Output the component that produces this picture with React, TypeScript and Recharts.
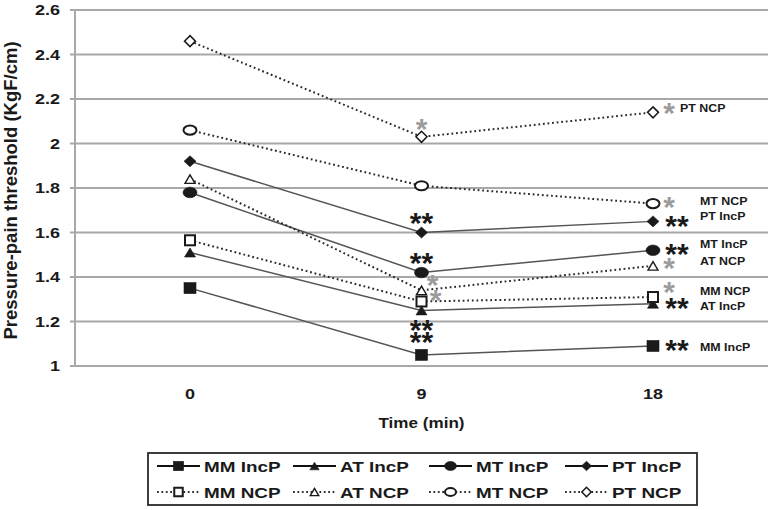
import React from 'react';
import { LineChart, Line, XAxis, YAxis, CartesianGrid, LabelList } from 'recharts';

// ---------- data ----------
const categories = ['0', '9', '18'];
const yTicks = [1, 1.2, 1.4, 1.6, 1.8, 2, 2.2, 2.4, 2.6];

const mmIncP = [1.35, 1.05, 1.09];
const atIncP = [1.51, 1.25, 1.28];
const mtIncP = [1.78, 1.42, 1.52];
const ptIncP = [1.92, 1.6, 1.65];
const mmNCP = [1.565, 1.29, 1.31];
const atNCP = [1.84, 1.34, 1.45];
const mtNCP = [2.06, 1.81, 1.73];
const ptNCP = [2.46, 2.03, 2.14];

const mmIncPSig = ['', '**', '**'];
const atIncPSig = ['', '**', '**'];
const mtIncPSig = ['', '**', '**'];
const ptIncPSig = ['', '**', '**'];
const mmNCPSig = ['', '*', '*'];
const atNCPSig = ['', '*', '*'];
const mtNCPSig = ['', '', '*'];
const ptNCPSig = ['', '*', '*'];

type Shape = 'square' | 'triangle' | 'ellipse' | 'diamond';

const series = [
  { key: 'MM_IncP', name: 'MM IncP', values: mmIncP, sig: mmIncPSig, shape: 'square' as Shape, filled: true },
  { key: 'AT_IncP', name: 'AT IncP', values: atIncP, sig: atIncPSig, shape: 'triangle' as Shape, filled: true },
  { key: 'MT_IncP', name: 'MT IncP', values: mtIncP, sig: mtIncPSig, shape: 'ellipse' as Shape, filled: true },
  { key: 'PT_IncP', name: 'PT IncP', values: ptIncP, sig: ptIncPSig, shape: 'diamond' as Shape, filled: true },
  { key: 'MM_NCP', name: 'MM NCP', values: mmNCP, sig: mmNCPSig, shape: 'square' as Shape, filled: false },
  { key: 'AT_NCP', name: 'AT NCP', values: atNCP, sig: atNCPSig, shape: 'triangle' as Shape, filled: false },
  { key: 'MT_NCP', name: 'MT NCP', values: mtNCP, sig: mtNCPSig, shape: 'ellipse' as Shape, filled: false },
  { key: 'PT_NCP', name: 'PT NCP', values: ptNCP, sig: ptNCPSig, shape: 'diamond' as Shape, filled: false },
];

// ---------- styling (offsets for annotations / end labels) ----------
const sigOffsets: Record<string, (number[] | null)[]> = {
  MM_IncP: [null, [0, -17], [24, 0]],
  AT_IncP: [null, [0, 16], [24, 0]],
  MT_IncP: [null, [0, -14], [24, 0]],
  PT_IncP: [null, [0, -14], [24, 1]],
  MM_NCP: [null, [14, -6], [16, -9]],
  AT_NCP: [null, [11, -9], [16, -2]],
  MT_NCP: [null, null, [16, -1]],
  PT_NCP: [null, [0, -12], [16, -3]],
};
const endLabelOffsets: Record<string, number[]> = {
  MM_IncP: [47, 1],
  AT_IncP: [47, 2],
  MT_IncP: [47, -6],
  PT_IncP: [47, -5],
  MM_NCP: [47, -6],
  AT_NCP: [47, -5],
  MT_NCP: [47, -2.5],
  PT_NCP: [27, -4.5],
};

const FONT = "'Liberation Sans', Arial, Helvetica, sans-serif";
const INK = '#1a1a1a';
const GRID = '#a8a8a8';

const data = categories.map((c, i) => {
  const row: Record<string, any> = { time: c };
  series.forEach((s) => {
    row[s.key] = s.values[i];
    row[s.key + '_sig'] = s.sig[i];
  });
  return row;
});

const SText = ({ x, y, size, sx = 1, anchor = 'start', fill = INK, children }: any) => (
  <text
    transform={`translate(${x},${y}) scale(${sx},1)`}
    fontSize={size}
    fontWeight="bold"
    fontFamily={FONT}
    textAnchor={anchor}
    fill={fill}
  >
    {children}
  </text>
);

const Marker = ({ shape, filled, cx, cy, k = 1 }: any) => {
  const fill = filled ? INK : '#ffffff';
  const stroke = INK;
  const sw = filled ? 0.6 : 1.7;
  if (shape === 'square') {
    const w = (filled ? 12 : 10) * k;
    const h = (filled ? 11 : 10) * k;
    return <rect x={cx - w / 2} y={cy - h / 2} width={w} height={h} fill={fill} stroke={stroke} strokeWidth={filled ? sw : 2} />;
  }
  if (shape === 'triangle') {
    const w = (filled ? 11 : 10) * k;
    const h = (filled ? 9 : 8.5) * k;
    return (
      <polygon
        points={`${cx},${cy - h / 2} ${cx + w / 2},${cy + h / 2} ${cx - w / 2},${cy + h / 2}`}
        fill={fill}
        stroke={stroke}
        strokeWidth={filled ? sw : 1.4}
        strokeLinejoin="miter"
      />
    );
  }
  if (shape === 'ellipse') {
    const rx = (filled ? 7 : 6.5) * k;
    const ry = (filled ? 5.3 : 4.6) * k;
    return <ellipse cx={cx} cy={cy} rx={rx} ry={ry} fill={fill} stroke={stroke} strokeWidth={filled ? sw : 2} />;
  }
  const w = (filled ? 12 : 11) * k;
  const h = (filled ? 11 : 11) * k;
  return (
    <polygon
      points={`${cx},${cy - h / 2} ${cx + w / 2},${cy} ${cx},${cy + h / 2} ${cx - w / 2},${cy}`}
      fill={fill}
      stroke={stroke}
      strokeWidth={filled ? sw : 1.5}
    />
  );
};

const ASTER = 30;

const makeSig = (key: string) => (p: any) => {
  const { value, index } = p;
  const x = p.x ?? p.viewBox?.x;
  const y = p.y ?? p.viewBox?.y;
  if (!value || x == null || y == null) return null;
  const off = sigOffsets[key][index];
  if (!off) return null;
  const color = value === '**' ? INK : '#9c9c9c';
  return (
    <SText x={x + off[0]} y={y + off[1] + ASTER * 0.47} size={ASTER} anchor="middle" fill={color}>
      {value}
    </SText>
  );
};

const makeEndLabel = (key: string, name: string) => (p: any) => {
  const { index } = p;
  const x = p.x ?? p.viewBox?.x;
  const y = p.y ?? p.viewBox?.y;
  if (index !== categories.length - 1 || x == null || y == null) return null;
  const off = endLabelOffsets[key];
  return (
    <SText x={x + off[0]} y={y + off[1] + 4} size={11} sx={1.13}>
      {name}
    </SText>
  );
};

const Legend = () => {
  const left = 157;
  const colW = 136;
  const rows = [466, 492];
  return (
    <svg width={771} height={70} style={{ position: 'absolute', left: 0, top: 440 }}>
      <rect x={148} y={13} width={549} height={52} fill="#fff" stroke="#2a2a2a" strokeWidth={1.8} />
      {series.map((s, i) => {
        const col = i % 4;
        const row = Math.floor(i / 4);
        const x0 = left + col * colW;
        const y = rows[row] - 440;
        return (
          <g key={s.key}>
            <line
              x1={x0}
              x2={x0 + 43}
              y1={y}
              y2={y}
              stroke={s.filled ? '#111' : '#333'}
              strokeWidth={s.filled ? 2 : 1.8}
              strokeDasharray={s.filled ? undefined : '1.8 2.6'}
            />
            <Marker shape={s.shape} filled={s.filled} cx={x0 + 21.5} cy={y} k={0.85} />
            <SText x={x0 + 47} y={y + 5.6} size={15.5} sx={1.22}>
              {s.name}
            </SText>
          </g>
        );
      })}
    </svg>
  );
};

export default function App() {
  return (
    <div style={{ position: 'absolute', left: 0, top: 0, width: 771, height: 510, background: '#fff' }}>
      <LineChart width={771} height={510} data={data} margin={{ top: 10, right: 3, left: 0, bottom: 74 }}>
        <CartesianGrid vertical={false} stroke={GRID} strokeWidth={2} />
        <XAxis
          dataKey="time"
          type="category"
          padding={{ left: 115, right: 115 }}
          height={70}
          tickSize={0}
          tickMargin={0}
          tickLine={false}
          axisLine={{ stroke: GRID, strokeWidth: 2 }}
          tick={(p: any) => (
            <SText x={p.x} y={p.y + 33} size={15} sx={1.2} anchor="middle">
              {p.payload.value}
            </SText>
          )}
          label={{
            content: (p: any) => {
              const vb = p.viewBox || { x: 75, y: 366, width: 693 };
              return (
                <SText x={vb.x + vb.width / 2} y={vb.y + 62} size={14} sx={1.22} anchor="middle">
                  Time (min)
                </SText>
              );
            },
          }}
        />
        <YAxis
          width={75}
          domain={[1, 2.6]}
          ticks={yTicks}
          interval={0}
          tickSize={5}
          tickMargin={10}
          tickLine={{ stroke: GRID, strokeWidth: 2 }}
          axisLine={{ stroke: GRID, strokeWidth: 2 }}
          tick={(p: any) => (
            <SText x={p.x} y={p.y + 5.4} size={15} sx={1.2} anchor="end">
              {String(p.payload.value)}
            </SText>
          )}
          label={{
            content: (p: any) => {
              const vb = p.viewBox || { y: 10, height: 356 };
              const cy = vb.y + vb.height / 2 + 2.5;
              return (
                <text
                  transform={`translate(17,${cy}) rotate(-90)`}
                  fontSize={18.5}
                  fontWeight="bold"
                  fontFamily={FONT}
                  textAnchor="middle"
                  fill={INK}
                >
                  Pressure-pain threshold (KgF/cm)
                </text>
              );
            },
          }}
        />
        <YAxis
          yAxisId="right"
          orientation="right"
          width={0}
          domain={[1, 2.6]}
          tick={false}
          tickLine={false}
          axisLine={{ stroke: GRID, strokeWidth: 2 }}
        />
        {series.map((s) => (
          <Line
            key={s.key}
            dataKey={s.key}
            name={s.name}
            type="linear"
            isAnimationActive={false}
            stroke={s.filled ? '#555555' : '#2a2a2a'}
            strokeWidth={s.filled ? 1.5 : 2}
            strokeDasharray={s.filled ? undefined : '1.8 2.8'}
            activeDot={false}
            dot={(p: any) => (
              <Marker key={`${s.key}-${p.index}`} shape={s.shape} filled={s.filled} cx={p.cx} cy={p.cy} />
            )}
          >
            <LabelList dataKey={s.key + '_sig'} content={makeSig(s.key)} />
            <LabelList dataKey={s.key} content={makeEndLabel(s.key, s.name)} />
          </Line>
        ))}
      </LineChart>
      <Legend />
    </div>
  );
}
